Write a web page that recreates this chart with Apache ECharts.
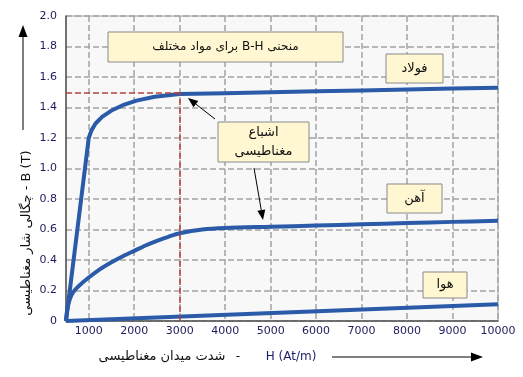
<!DOCTYPE html>
<html>
<head>
<meta charset="utf-8">
<script src="https://cdn.jsdelivr.net/npm/echarts@6/dist/echarts.min.js"></script>
<style>
  html, body { margin: 0; padding: 0; background: #fff; }
  #chart { width: 523px; height: 377px; }
</style>
</head>
<body>
<div id="chart"></div>
<script>
// H values (At/m) and B values (T)
const hSteel = [500, 1000, 1060, 1150, 1300, 1500, 1750, 2050, 2450, 3000, 4000, 5000, 6000, 7000, 8000, 9000, 10000];
const bSteel = [0, 1.2, 1.25, 1.295, 1.34, 1.38, 1.415, 1.445, 1.47, 1.488, 1.494, 1.5, 1.506, 1.512, 1.518, 1.524, 1.53];

const hIron = [500, 520, 560, 620, 700, 800, 1000, 1250, 1500, 1750, 2000, 2250, 2500, 2750, 3000, 3500, 4000, 5000, 6000, 7000, 8000, 9000, 10000];
const bIron = [0, 0.06, 0.12, 0.17, 0.205, 0.235, 0.285, 0.34, 0.385, 0.425, 0.46, 0.495, 0.525, 0.552, 0.575, 0.6, 0.61, 0.618, 0.626, 0.634, 0.642, 0.65, 0.657];

const hAir = [500, 10000];
const bAir = [0, 0.11];

const xTicks = [1000, 2000, 3000, 4000, 5000, 6000, 7000, 8000, 9000, 10000];
const satH = 3000;
const satB = 1.5;

const pairs = (xs, ys) => xs.map((x, i) => [x, ys[i]]);

const blue = '#2b5aa8';
const font = '"DejaVu Sans", Verdana, sans-serif';
const rle = s => '\u202B' + s + '\u202C';

function arrow(x1, y1, x2, y2, head, w) {
    const a = Math.atan2(y2 - y1, x2 - x1);
    const bx = x2 - head * Math.cos(a), by = y2 - head * Math.sin(a);
    const px = -Math.sin(a) * w, py = Math.cos(a) * w;
    return [
        { type: 'line', z: 10, shape: { x1: x1, y1: y1, x2: bx, y2: by }, style: { stroke: '#000', lineWidth: 1 } },
        { type: 'polygon', z: 10, shape: { points: [[x2, y2], [bx + px, by + py], [bx - px, by - py]] }, style: { fill: '#000' } }
    ];
}

function box(x, y, w, h, text, size, lh) {
    return [
        { type: 'rect', z: 10, shape: { x: x, y: y, width: w, height: h }, style: { fill: '#fff7d1', stroke: '#8a8a8a', lineWidth: 1 } },
        { type: 'text', z: 11, x: x + w / 2, y: y + h / 2,
          style: { text: text, align: 'center', verticalAlign: 'middle', fontSize: size || 13, fontFamily: font, fill: '#111', lineHeight: lh || 15 } }
    ];
}

const chart = echarts.init(document.getElementById('chart'));

chart.setOption({
    animation: false,
    backgroundColor: '#fff',
    grid: {
        left: 66, top: 16, right: 25, bottom: 56,
        show: true, backgroundColor: '#f8f8f8', borderColor: '#9a9a9a', borderWidth: 1
    },
    xAxis: {
        type: 'value',
        min: 500,
        max: 10000,
        axisLine: { lineStyle: { color: '#555', width: 1.5 } },
        axisTick: { show: false, customValues: xTicks },
        axisLabel: { customValues: xTicks, color: '#1c1c5c', fontSize: 11, fontFamily: font, margin: 5, formatter: v => String(v) },
        splitLine: { show: true, lineStyle: { color: '#a3a3a3', width: 1.5, type: 'dashed' } }
    },
    yAxis: {
        type: 'value',
        min: 0,
        max: 2,
        interval: 0.2,
        axisLine: { show: true, lineStyle: { color: '#555', width: 1.5 } },
        axisTick: { show: false },
        axisLabel: {
            color: '#1c1c5c', fontSize: 11, fontFamily: font, margin: 9,
            formatter: v => v === 0 ? '0' : v.toFixed(1)
        },
        splitLine: { show: true, lineStyle: { color: '#a3a3a3', width: 1.5, type: 'dashed' } }
    },
    series: [
        {
            type: 'line', data: [], z: 1,
            markLine: {
                silent: true, symbol: 'none', label: { show: false },
                lineStyle: { color: '#b5403a', width: 1.5, type: 'dashed' },
                data: [
                    [{ coord: [500, satB] }, { coord: [satH, satB] }],
                    [{ coord: [satH, 0] }, { coord: [satH, satB] }]
                ]
            }
        },
        { name: 'فولاد', type: 'line', z: 3, data: pairs(hSteel, bSteel), showSymbol: false, lineStyle: { color: blue, width: 4 }, itemStyle: { color: blue } },
        { name: 'آهن', type: 'line', z: 3, data: pairs(hIron, bIron), showSymbol: false, smooth: 0.3, lineStyle: { color: blue, width: 4 }, itemStyle: { color: blue } },
        { name: 'هوا', type: 'line', z: 3, data: pairs(hAir, bAir), showSymbol: false, lineStyle: { color: blue, width: 4 }, itemStyle: { color: blue } }
    ],
    graphic: [].concat(
        box(108, 32, 235, 30, rle('منحنی B-H برای مواد مختلف'), 12),
        box(386, 54, 57, 29, 'فولاد'),
        box(218, 122, 91, 40, 'اشباع\nمغناطیسی', 13, 19),
        box(387, 184, 55, 29, 'آهن'),
        box(423, 272, 44, 26, 'هوا'),
        arrow(215, 119, 188, 98, 10, 4),
        arrow(254, 168, 263, 220, 10, 4),
        arrow(23, 130, 23, 25, 12, 4.5),
        arrow(332, 357, 483, 357, 12, 4.5),
        [
            { type: 'text', x: 27, y: 233, rotation: Math.PI / 2,
              style: { text: 'چگالی شار مغناطیسی - B (T)', align: 'center', verticalAlign: 'middle', fontSize: 13, fontFamily: font, fill: '#111' } },
            { type: 'text', x: 162, y: 357,
              style: { text: 'شدت میدان مغناطیسی', align: 'center', verticalAlign: 'middle', fontSize: 13, fontFamily: font, fill: '#111' } },
            { type: 'text', x: 238, y: 357,
              style: { text: '-', align: 'center', verticalAlign: 'middle', fontSize: 12, fontFamily: font, fill: '#111' } },
            { type: 'text', x: 291, y: 357,
              style: { text: 'H (At/m)', align: 'center', verticalAlign: 'middle', fontSize: 12, fontFamily: font, fill: '#1c1c6e' } }
        ]
    )
});
</script>
</body>
</html>
